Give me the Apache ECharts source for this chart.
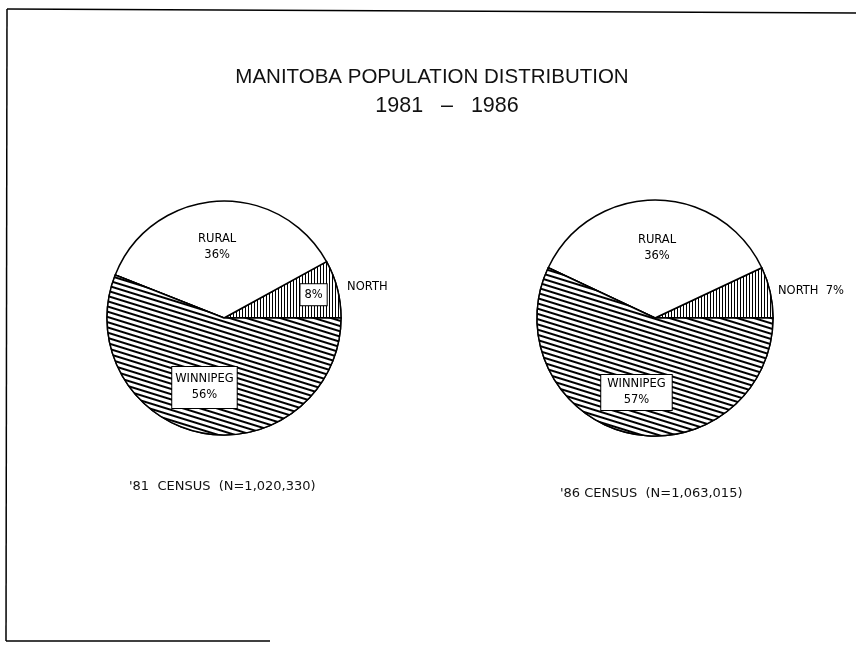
<!DOCTYPE html>
<html>
<head>
<meta charset="utf-8">
<script src="https://cdn.jsdelivr.net/npm/echarts@6/dist/echarts.min.js"></script>
<style>
html,body{margin:0;padding:0;background:#fff;}
#chart{width:856px;height:645px;}
</style>
</head>
<body>
<div id="chart"></div>
<script>
const categories = ['NORTH', 'RURAL', 'WINNIPEG'];
const pct1981 = [8, 36, 56];
const pct1986 = [7, 36, 57];
const titleLines = ['MANITOBA POPULATION DISTRIBUTION', '1981   \u2013   1986'];
const censusLabels = ["'81  CENSUS  (N=1,020,330)", "'86 CENSUS  (N=1,063,015)"];

const FONT = '"Liberation Sans", Arial, sans-serif';
const LFONT = '"DejaVu Sans", sans-serif';

const decals = {
  NORTH: { symbol: 'rect', symbolSize: 1, color: '#000', backgroundColor: '#fff',
           dashArrayX: [1, 0], dashArrayY: [1, 2], rotation: Math.PI / 2 },
  RURAL: null,
  WINNIPEG: { symbol: 'rect', symbolSize: 1, color: '#000', backgroundColor: '#fff',
              dashArrayX: [1, 0], dashArrayY: [2, 3], rotation: 0.3 }
};

const boxLabel = {
  backgroundColor: '#fff', borderColor: '#000', borderWidth: 1,
  padding: [3, 4, 2, 4]
};

function buildData(values, yearIdx) {
  return categories.map((name, i) => {
    const item = {
      name: name,
      value: values[i],
      itemStyle: { color: '#fff', decal: decals[name] || undefined }
    };
    if (name === 'RURAL') {
      item.label = { position: 'inside', formatter: '{b}\n{c}%', offset: yearIdx === 0 ? [-3, -10] : [2, -8] };
    } else if (name === 'WINNIPEG') {
      item.label = Object.assign({ position: 'inside', formatter: '{b}\n{c}%',
        offset: yearIdx === 0 ? [-8, 9] : [-5, 14] }, boxLabel,
        yearIdx === 1 ? { padding: [2, 6, 1, 6] } : { padding: [5, 3, 4, 3] });
    } else if (name === 'NORTH') {
      if (yearIdx === 0) {
        item.label = Object.assign({ position: 'inside', formatter: '{c}%', offset: [30, -8] }, boxLabel);
      } else {
        item.label = { position: 'outside', formatter: '{b}  {c}%', distanceToLabelLine: 0 };
        item.labelLine = { show: false, length: 6, length2: 2 };
      }
    }
    return item;
  });
}

const baseSeries = {
  type: 'pie',
  radius: 117,
  startAngle: 0,
  clockwise: false,
  avoidLabelOverlap: false,
  silent: true,
  animation: false,
  itemStyle: { borderColor: '#000', borderWidth: 1.5 },
  label: { color: '#000', fontFamily: LFONT, fontSize: 11.5, lineHeight: 16, align: 'center' },
  labelLine: { show: false }
};

const chart = echarts.init(document.getElementById('chart'), null, { renderer: 'canvas' });
chart.setOption({
  backgroundColor: '#fff',
  title: [
    { text: titleLines[0], left: 427, top: 62, textAlign: 'center',
      textStyle: { fontFamily: FONT, fontSize: 20.5, fontWeight: 'normal', color: '#111' } },
    { text: titleLines[1], left: 442, top: 90, textAlign: 'center',
      textStyle: { fontFamily: FONT, fontSize: 21.5, fontWeight: 'normal', color: '#111' } },
    { text: censusLabels[0], left: 124, top: 475,
      textStyle: { fontFamily: LFONT, fontSize: 13, fontWeight: 'normal', color: '#111' } },
    { text: censusLabels[1], left: 555, top: 482,
      textStyle: { fontFamily: LFONT, fontSize: 13, fontWeight: 'normal', color: '#111' } }
  ],
  graphic: [
    { type: 'line', shape: { x1: 7, y1: 9, x2: 856, y2: 13 }, style: { stroke: '#000', lineWidth: 1.5 } },
    { type: 'line', shape: { x1: 7, y1: 9, x2: 6, y2: 641 }, style: { stroke: '#000', lineWidth: 1.5 } },
    { type: 'line', shape: { x1: 6, y1: 641, x2: 270, y2: 641 }, style: { stroke: '#000', lineWidth: 1.5 } }
  ],
  series: [
    Object.assign({}, baseSeries, { name: '1981', center: [224, 318], data: buildData(pct1981, 0) }),
    Object.assign({}, baseSeries, { name: '1986', center: [655, 318], radius: 118, data: buildData(pct1986, 1) }),
    Object.assign({}, baseSeries, {
      name: '1981 labels', center: [224, 318], z: 5,
      itemStyle: { color: 'transparent', borderWidth: 0 },
      data: categories.map((name, i) => ({
        name: name, value: pct1981[i],
        label: name === 'NORTH'
          ? { show: true, position: 'outside', formatter: '{b}', distanceToLabelLine: 0 }
          : { show: false },
        labelLine: { show: false, length: 8, length2: 2 }
      }))
    })
  ]
});
</script>
</body>
</html>
